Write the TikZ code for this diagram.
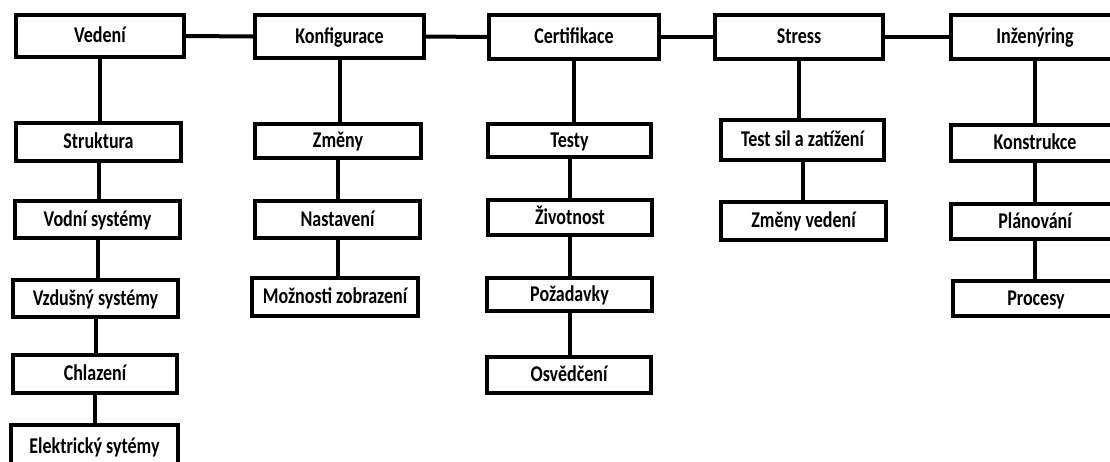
\documentclass[tikz,border=0pt]{standalone}
\usepackage{fontspec}
\newfontfamily\boxfont{Carlito Bold}[FakeStretch=0.8]
\begin{document}
\begin{tikzpicture}[x=1pt,y=-1pt,
  box/.style={draw=black, line width=4pt, fill=white, inner sep=0pt,
    text height=13pt, text depth=0pt,
    font=\fontsize{22.5}{25}\boxfont},
  link/.style={draw=black, line width=4pt}]
\useasboundingbox (0,0) rectangle (1110,461);

% top row
\node[box, minimum width=168, minimum height=42] (ved) at (100,36) {Vedení};
\node[box, minimum width=169, minimum height=43] (kon) at (339.5,36.5) {Konfigurace};
\node[box, minimum width=170, minimum height=44] (cer) at (574,37) {Certifikace};
\node[box, minimum width=168, minimum height=44] (str) at (799,37) {Stress};
\node[box, minimum width=168, minimum height=44] (inz) at (1035,37) {Inženýring};

% Vedení column
\node[box, minimum width=165, minimum height=38] (stk) at (98.5,142) {Struktura};
\node[box, minimum width=165, minimum height=37] (vod) at (97.5,219.5) {Vodní systémy};
\node[box, minimum width=165, minimum height=37] (vzd) at (95.5,298.5) {Vzdušný systémy};
\node[box, minimum width=164, minimum height=38] (chl) at (95,374) {Chlazení};
\node[box, minimum width=167, minimum height=43] (ele) at (94.5,446.5) {Elektrický sytémy};

% Konfigurace column
\node[box, minimum width=166, minimum height=34] (zme) at (338,141) {Změny};
\node[box, minimum width=165, minimum height=37] (nas) at (337.5,219.5) {Nastavení};
\node[box, minimum width=166, minimum height=38] (moz) at (335,297) {Možnosti zobrazení};

% Certifikace column
\node[box, minimum width=163, minimum height=33] (tes) at (569.5,140.5) {Testy};
\node[box, minimum width=164, minimum height=35] (ziv) at (570,217.5) {Životnost};
\node[box, minimum width=165, minimum height=33] (poz) at (569.5,294.5) {Požadavky};
\node[box, minimum width=164, minimum height=36] (osv) at (569,375) {Osvědčení};

% Stress column
\node[box, minimum width=163, minimum height=40] (tsz) at (802.5,140) {Test sil a zatížení};
\node[box, minimum width=165, minimum height=38] (zve) at (803.5,221) {Změny vedení};

% Inženýring column
\node[box, minimum width=168, minimum height=36] (kns) at (1035,143) {Konstrukce};
\node[box, minimum width=168, minimum height=35] (pla) at (1035,221.5) {Plánování};
\node[box, minimum width=166, minimum height=35] (pro) at (1036,298.5) {Procesy};

% horizontal links between the heads
\foreach \a/\b in {ved/kon, kon/cer, cer/str, str/inz}
  \draw[link] (\a.east) -- (\b.west);

% vertical links down each column
\foreach \a/\b in {ved/stk, stk/vod, vod/vzd, vzd/chl, chl/ele,
                   kon/zme, zme/nas, nas/moz,
                   cer/tes, tes/ziv, ziv/poz, poz/osv,
                   str/tsz, tsz/zve,
                   inz/kns, kns/pla, pla/pro}
  \draw[link] (\a.south) -- (\a.south |- \b.north);
\end{tikzpicture}
\end{document}
